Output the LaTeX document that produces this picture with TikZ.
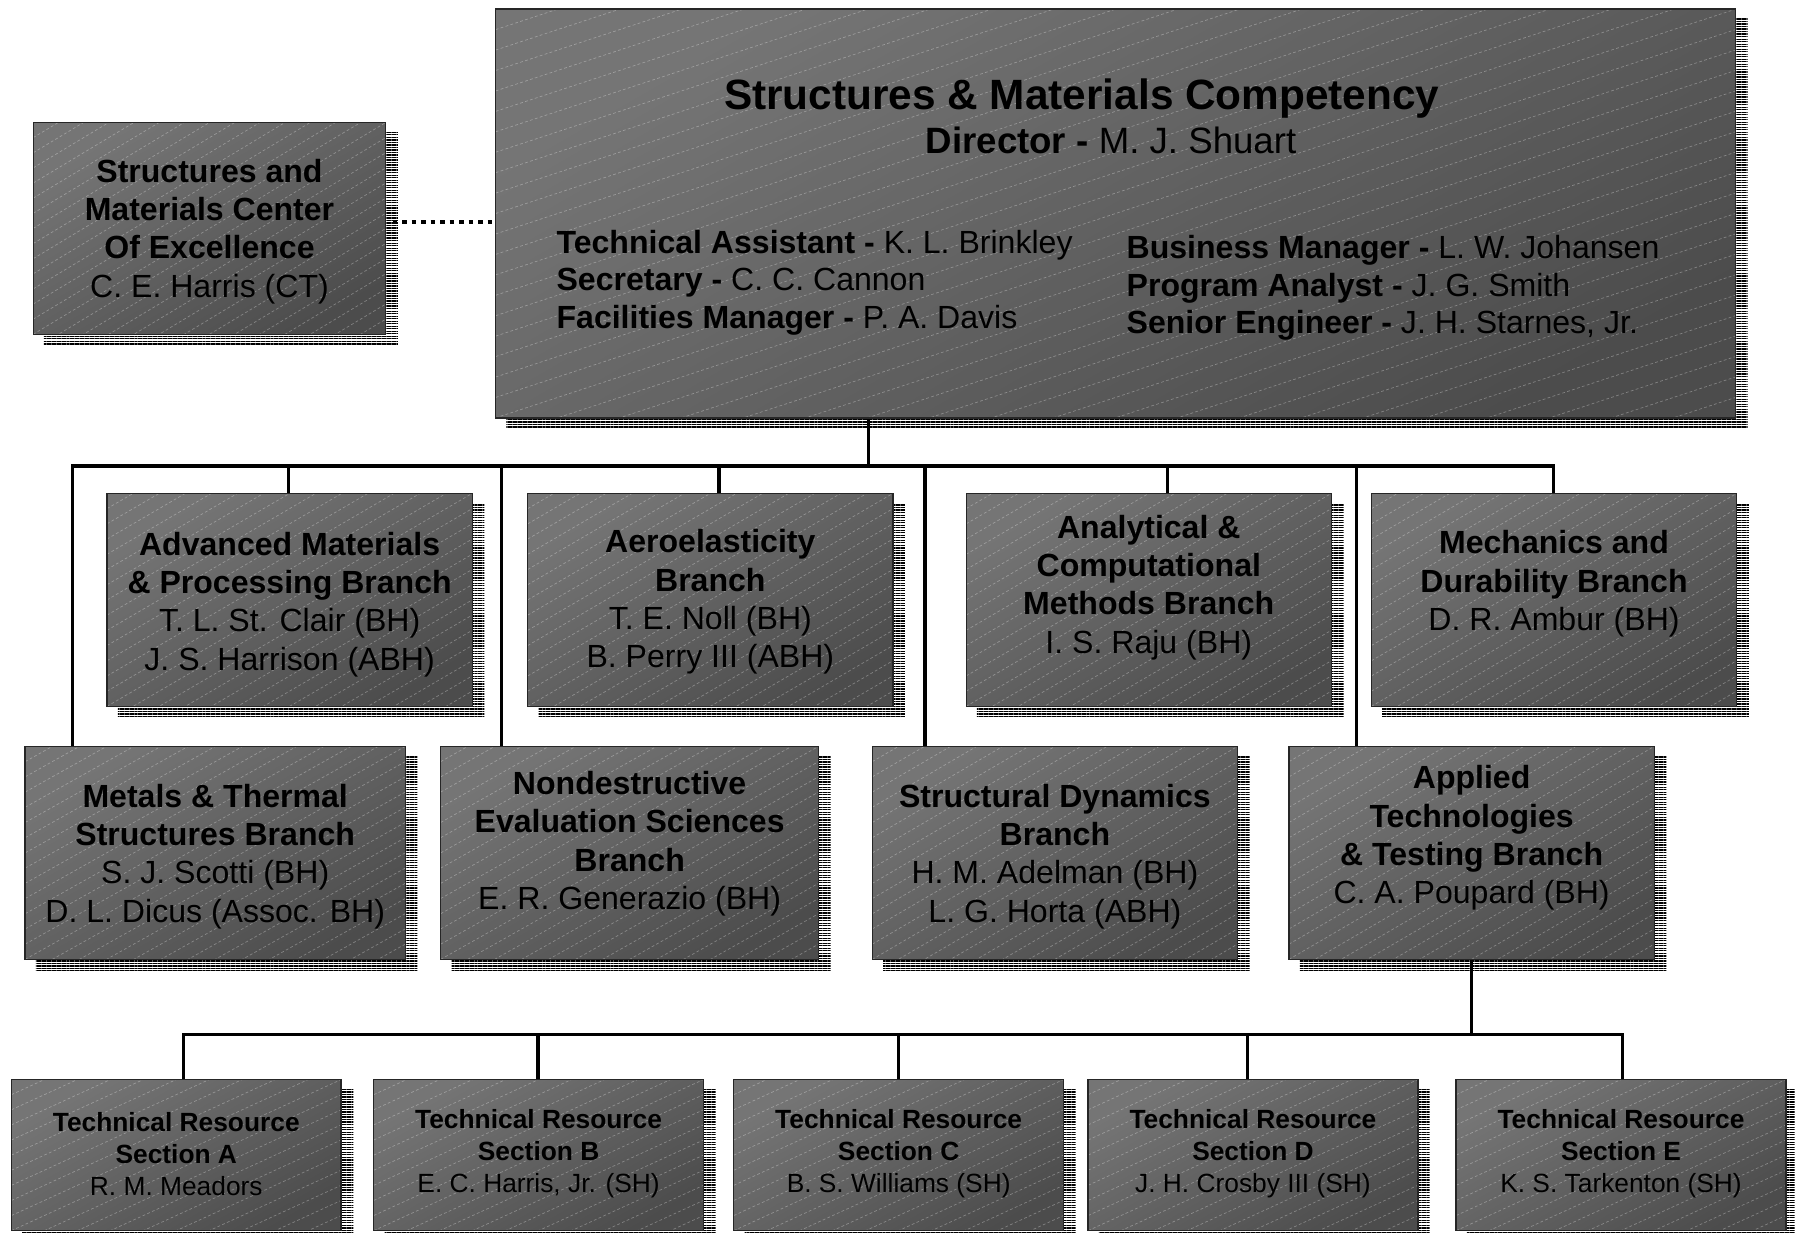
\documentclass[tikz,border=0pt]{standalone}
\usepackage{fontspec}
\setmainfont{Liberation Sans}
\usetikzlibrary{calc,backgrounds,patterns.meta}
\definecolor{boxtop}{gray}{0.46}
\definecolor{boxbot}{gray}{0.30}
\tikzset{
  hatchline/.style={white,opacity=.3,line width=.6pt,dash pattern=on 2.5pt off 2pt},
  hatch/.style={path picture={
      \foreach \i in {-#1,...,#1}
        \draw[hatchline] ($(path picture bounding box.south west)!{\i/#1}!(path picture bounding box.north west)$)
          -- ++($(path picture bounding box.north east)-(path picture bounding box.south west)$);}},
  unit/.style={draw=black!85,line width=1.2pt,top color=boxtop,bottom color=boxbot,shading angle=30,inner sep=0pt,hatch=#1},
  unit/.default=14,
  utext/.style={align=center,inner sep=0pt,font=\fontsize{28}{33.5}\selectfont},
  stext/.style={align=center,inner sep=0pt,font=\fontsize{23}{28}\selectfont},
  staff/.style={align=left,anchor=west,inner sep=0pt,font=\fontsize{28}{33}\selectfont},
  dropfill/.style={pattern={Lines[angle=0,distance=2.2pt,line width=1.1pt]},pattern color=black},
  wire/.style={line width=2.8pt,draw=black},
  dotline/.style={line width=3.5pt,dash pattern=on 4pt off 4.3pt},
}
\begin{document}
\begin{tikzpicture}[x=1pt,y=-1pt]
  \path[use as bounding box] (0,0) rectangle (1568,1077);
  % competency office
  \node[unit=20,minimum width=1083pt,minimum height=357pt] (smc) at (974.5,186.5) {};
  \node[font=\fontsize{37}{44}\selectfont\bfseries,anchor=base,inner sep=0pt] (ttl) at (945,96) {Structures \& Materials Competency};
  \node[font=\fontsize{32}{38}\selectfont,anchor=base,inner sep=0pt] (dir) at (970.5,134) {\textbf{Director -} M. J. Shuart};
  \node[staff] (stl) at (486,247) {\textbf{Technical Assistant -} K. L. Brinkley\\\textbf{Secretary -} C. C. Cannon\\\textbf{Facilities Manager -} P. A. Davis};
  \node[staff] (str) at (984,251.5) {\textbf{Business Manager -} L. W. Johansen\\\textbf{Program Analyst -} J. G. Smith\\\textbf{Senior Engineer -} J. H. Starnes, Jr.};
  \node[unit,minimum width=308pt,minimum height=185pt] (coe) at (183,199.5) {};
  \node[utext] at (183,202) {\textbf{Structures and}\\\textbf{Materials Center}\\\textbf{Of Excellence}\\C. E. Harris (CT)};
  % branches
  \foreach \nm/\cx/\ty/\txt in {
    amp/253/528/{\textbf{Advanced Materials}\\\textbf{\& Processing Branch}\\T. L. St. Clair (BH)\\J. S. Harrison (ABH)},
    aero/620.5/526/{\textbf{Aeroelasticity}\\\textbf{Branch}\\T. E. Noll (BH)\\B. Perry III (ABH)},
    acm/1003.5/513/{\textbf{Analytical \&}\\\textbf{Computational}\\\textbf{Methods Branch}\\I. S. Raju (BH)},
    mdb/1357.5/510/{\textbf{Mechanics and}\\\textbf{Durability Branch}\\D. R. Ambur (BH)}} {
    \node[unit,minimum width=319pt,minimum height=186pt] (\nm) at (\cx,524) {};
    \node[utext] at (\cx,\ty) {\txt};
  }
  \foreach \nm/\cx/\bw/\ty/\txt in {
    mts/188/332/748/{\textbf{Metals \& Thermal}\\\textbf{Structures Branch}\\S. J. Scotti (BH)\\D. L. Dicus (Assoc. BH)},
    nde/550/330/737/{\textbf{Nondestructive}\\\textbf{Evaluation Sciences}\\\textbf{Branch}\\E. R. Generazio (BH)},
    sdb/921.5/319/748/{\textbf{Structural Dynamics}\\\textbf{Branch}\\H. M. Adelman (BH)\\L. G. Horta (ABH)},
    atb/1285.5/319/732/{\textbf{Applied}\\\textbf{Technologies}\\\textbf{\& Testing Branch}\\C. A. Poupard (BH)}} {
    \node[unit,minimum width=\bw pt,minimum height=186pt] (\nm) at (\cx,745) {};
    \node[utext] at (\cx,\ty) {\txt};
  }
  % sections
  \foreach \nm/\cx/\ltr/\who in {sa/154/A/R. M. Meadors, sb/470.5/B/{E. C. Harris, Jr. (SH)},
      sc/785/C/B. S. Williams (SH), sd/1094.5/D/J. H. Crosby III (SH), se/1416/E/K. S. Tarkenton (SH)} {
    \node[unit=10,minimum width=288pt,minimum height=132pt] (\nm) at (\cx,1009) {};
    \node[stext] at (\cx,1008) {\textbf{Technical Resource}\\\textbf{Section \ltr}\\\who};
  }
  % taps on the buses
  \coordinate (hub) at (759,407);
  \foreach \nm/\x in {mts/63,amp/252,nde/438,aero/628,sdb/808,acm/1020,atb/1185,mdb/1357}
    \coordinate (tap\nm) at (\x,407);
  \coordinate (hubb) at (1285.5,904);
  \foreach \nm/\x in {sa/160,sb/470,sc/785,sd/1090,se/1417}
    \coordinate (tap\nm) at (\x,904);
  \begin{scope}[on background layer]
    \fill[white] (0,0) rectangle (1568,1077);
    \foreach \nm in {smc,coe,amp,aero,acm,mdb,mts,nde,sdb,atb,sa,sb,sc,sd,se}
      \path[dropfill] ($(\nm.south west)+(10,9)$) rectangle ($(\nm.north east)+(10,9)$);
    \draw[wire] (smc.south -| hub) -- (hub);
    \draw[wire] (mts.north -| tapmts) -- (tapmts) -- (tapmdb) -- (mdb.north -| tapmdb);
    \foreach \nm in {amp,nde,aero,sdb,acm,atb}
      \draw[wire] (tap\nm) -- (\nm.north -| tap\nm);
    \draw[wire] (atb.south) -- (hubb);
    \draw[wire] (sa.north -| tapsa) -- (tapsa) -- (tapse) -- (se.north -| tapse);
    \foreach \nm in {sb,sc,sd}
      \draw[wire] (tap\nm) -- (\nm.north -| tap\nm);
  \end{scope}
  \coordinate (dl) at (343,194);
  \draw[dotline] (dl) -- (dl -| smc.west);
\end{tikzpicture}
\end{document}
